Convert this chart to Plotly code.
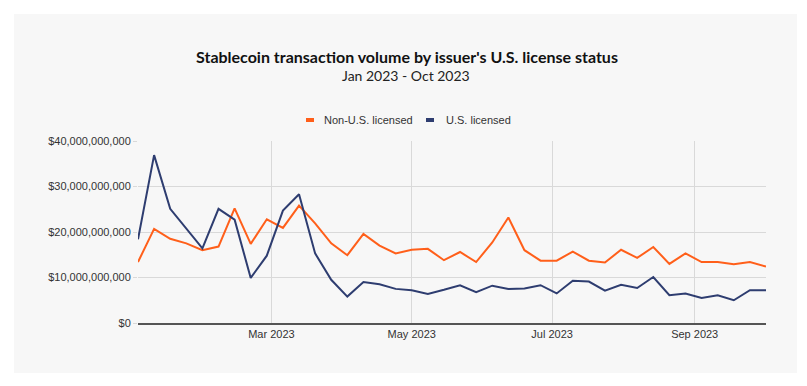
import pandas as pd
import plotly.graph_objects as go

# Weekly observations (Mondays), Jan 2 2023 - Oct 2 2023
weeks = pd.date_range("2023-01-02", "2023-10-02", freq="7D")

# values in billions of USD
non_us_licensed = [13.4, 20.7, 18.5, 17.5, 16.0, 16.8, 25.2, 17.4, 22.8, 20.9,
                   25.8, 21.9, 17.5, 14.9, 19.6, 17.0, 15.3, 16.1, 16.3, 13.8,
                   15.6, 13.4, 17.7, 23.2, 16.0, 13.7, 13.7, 15.7, 13.7, 13.3,
                   16.1, 14.3, 16.7, 13.0, 15.3, 13.4, 13.4, 12.9, 13.4, 12.4]
us_licensed = [18.4, 36.9, 25.1, 20.8, 16.4, 25.1, 22.7, 9.9, 14.8, 24.7,
               28.3, 15.3, 9.5, 5.8, 9.0, 8.5, 7.5, 7.2, 6.4, 7.3,
               8.3, 6.8, 8.2, 7.5, 7.6, 8.3, 6.5, 9.3, 9.1, 7.1,
               8.4, 7.7, 10.1, 6.1, 6.5, 5.5, 6.1, 5.0, 7.2, 7.2]
non_us_usd = [v * 1e9 for v in non_us_licensed]
us_usd = [v * 1e9 for v in us_licensed]

series_names = ["Non-U.S. licensed", "U.S. licensed"]
title_text = "Stablecoin transaction volume by issuer's U.S. license status"
subtitle_text = "Jan 2023 - Oct 2023"

ORANGE = "#FF5F1A"
NAVY = "#2E3D70"

fig = go.Figure()
fig.add_trace(go.Scatter(x=weeks, y=non_us_usd, mode="lines", name=series_names[0],
                         line=dict(color=ORANGE, width=2), showlegend=False))
fig.add_trace(go.Scatter(x=weeks, y=us_usd, mode="lines", name=series_names[1],
                         line=dict(color=NAVY, width=2), showlegend=False))

# page has an 8px body margin; work in page coordinates and shift
OFF = 8
W, H = 807 - OFF, 386 - OFF
L, T = 138 - OFF, 141 - OFF
R = W - (766 - OFF)
B = H - (323 - OFF)
pw, ph = W - L - R, H - T - B

def px_x(x):
    return (x - OFF - L) / pw

def px_y(y):
    return (H - B - (y - OFF)) / ph

# background panel
fig.add_shape(type="rect", xref="paper", yref="paper",
              x0=px_x(14), x1=px_x(797), y0=px_y(373), y1=px_y(14),
              fillcolor="#F7F7F7", line=dict(width=0), layer="below")

fig.add_annotation(text="<b>" + title_text + "</b>", xref="paper", yref="paper",
                   x=px_x(407), y=px_y(56), showarrow=False,
                   font=dict(family="Lato", size=16, color="#111111"),
                   xanchor="center", yanchor="middle")
fig.add_annotation(text=subtitle_text, xref="paper", yref="paper",
                   x=px_x(406), y=px_y(76), showarrow=False,
                   font=dict(family="Lato", size=14, color="#222222"),
                   xanchor="center", yanchor="middle")

# legend (drawn manually to match compact swatches)
legend_items = [(series_names[0], ORANGE, 310, 322), (series_names[1], NAVY, 430, 444)]
for name, col, sx, tx in legend_items:
    fig.add_shape(type="rect", xref="paper", yref="paper",
                  x0=px_x(sx - 4), x1=px_x(sx + 4), y0=px_y(122), y1=px_y(118),
                  fillcolor=col, line=dict(width=0))
    fig.add_annotation(text=name, xref="paper", yref="paper",
                       x=px_x(tx), y=px_y(120), showarrow=False,
                       xanchor="left", yanchor="middle",
                       font=dict(family="Liberation Sans, Arial", size=11, color="#333333"))

fig.update_layout(
    width=W, height=H,
    margin=dict(l=L, r=R, t=T, b=B, autoexpand=False),
    paper_bgcolor="white",
    plot_bgcolor="rgba(0,0,0,0)",
    font=dict(family="Liberation Sans, Arial", size=11, color="#333333"),
    showlegend=False,
    xaxis=dict(
        range=[weeks[0], weeks[-1]],
        tickformat="%b %Y", dtick="M2", tick0="2023-01-01",
        showgrid=True, gridcolor="#D9D9D9", gridwidth=1,
        showline=True, linecolor="#555555", linewidth=1.5,
        ticks="", zeroline=False,
        tickfont=dict(size=11, color="#333333"),
    ),
    yaxis=dict(
        range=[0, 40e9], dtick=10e9,
        tickprefix="$", tickformat=",.0f",
        showgrid=True, gridcolor="#D9D9D9", gridwidth=1,
        ticks="outside", ticklen=4, tickcolor="#D9D9D9",
        showline=False, zeroline=False,
        tickfont=dict(size=11, color="#333333"),
    ),
)

fig.write_html("out.html")
